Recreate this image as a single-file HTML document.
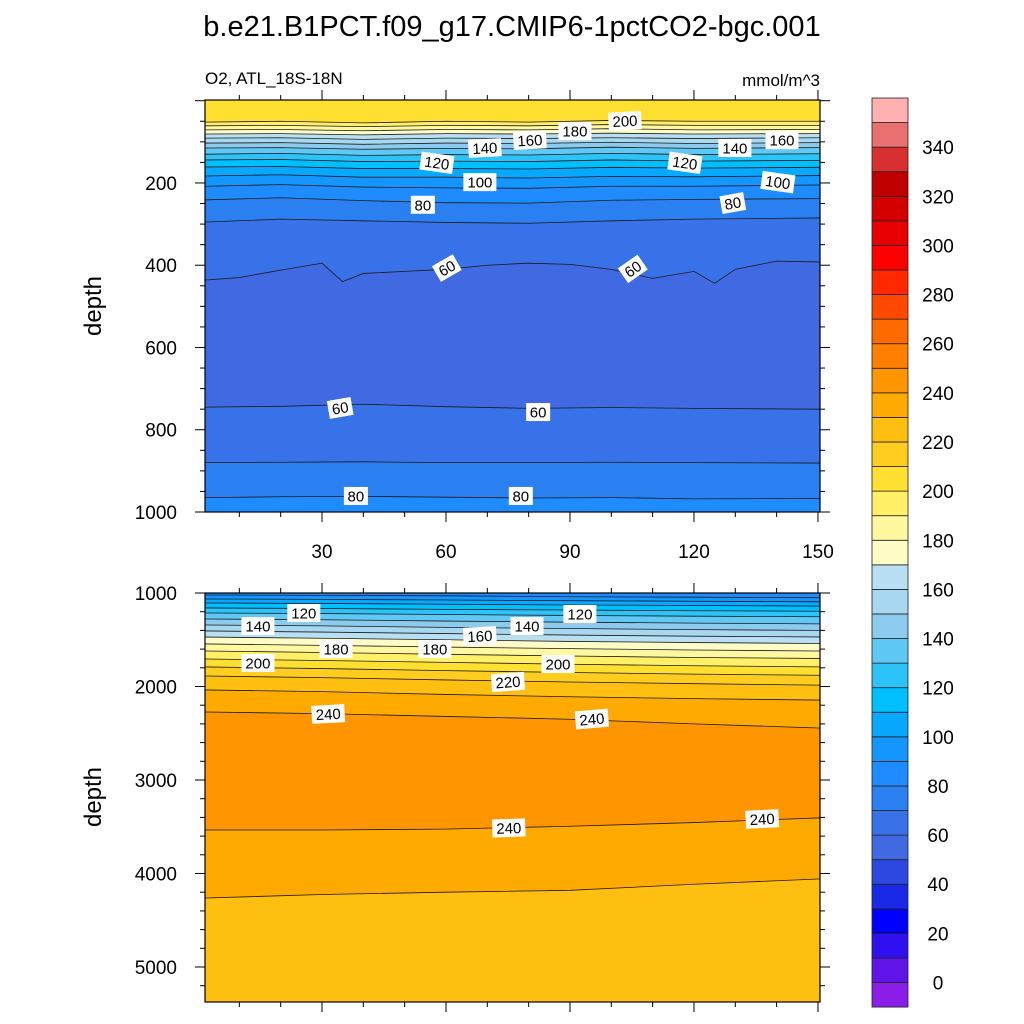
<!DOCTYPE html>
<html><head><meta charset="utf-8"><style>
body{margin:0;background:#fff}
svg{display:block;font-family:"Liberation Sans",sans-serif}
</style></head><body>
<svg id="chart" width="1024" height="1024" viewBox="0 0 1024 1024">
<text x="512" y="36" text-anchor="middle" font-size="29">b.e21.B1PCT.f09_g17.CMIP6-1pctCO2-bgc.001</text>
<text x="205" y="84" font-size="17">O2, ATL_18S-18N</text>
<text x="820" y="86" font-size="17" text-anchor="end">mmol/m^3</text>
<text transform="translate(101,306) rotate(-90)" text-anchor="middle" font-size="24">depth</text>
<text transform="translate(101,797) rotate(-90)" text-anchor="middle" font-size="24">depth</text>
<g id="layer"></g>
</svg>
<script>
// ---- data ----
const bandColors = ["#8a1ee8","#6014e8","#3010f0","#0000ff","#1a28e8","#2c48e0","#4169e1","#3872e8","#2a80f0","#1e8cff","#1496ff","#08a8ff","#00bfff","#2cc4f8","#60c8f5","#8ccbed","#a8d8f0","#b8e0f2","#fffcc8","#fff8a0","#fff068","#ffe030","#ffcc20","#ffbf10","#ffaa00","#ff9500","#ff8000","#ff6a00","#ff4800","#ff2800","#ff0000","#e80000","#d40000","#c00000","#d83030","#e87070","#ffb0b0"];
const cbLabels = [0,20,40,60,80,100,120,140,160,180,200,220,240,260,280,300,320,340];

const topYears = [2,20,40,60,80,100,120,150];
const topLevels = [200,190,180,170,160,150,140,130,120,110,100,90,80,70];
const topDepths = [
 [52,50,54,50,52,48,50,50],
 [61,60,63,60,61,58,60,60],
 [71,70,73,70,71,68,71,70],
 [81,80,83,80,81,79,81,80],
 [91,90,94,91,92,90,92,90],
 [103,102,106,103,104,101,104,102],
 [115,114,118,116,117,113,116,114],
 [130,128,133,131,132,128,131,129],
 [144,143,148,147,148,144,147,145],
 [161,160,165,165,166,162,164,162],
 [183,180,186,186,188,184,185,182],
 [208,204,210,212,213,208,208,205],
 [241,236,243,248,249,242,240,238],
 [295,288,292,296,298,292,288,285]
];
const wavyYears = [2,10,20,30,35,40,50,60,70,80,90,100,110,120,125,130,140,150];
const wavyLevel = 60;
const wavyDepths = [436,430,412,395,440,420,415,410,400,395,398,410,432,415,444,410,390,392];
const deepTopLevels = [60,70,80];
const deepTopDepths = [
 [745,743,738,744,748,746,748,750],
 [880,879,878,880,880,879,880,881],
 [965,963,962,964,966,965,968,967]
];
const botYears = [2,30,60,90,120,150];
const botLevels = [90,100,110,120,130,140,150,160,170,180,190,200,210,220,230,240];
const botDepths = [
 [1021,1025,1030,1040,1045,1050],
 [1064,1068,1075,1082,1088,1094],
 [1107,1112,1120,1128,1134,1140],
 [1160,1166,1175,1182,1190,1195],
 [1214,1220,1230,1240,1248,1254],
 [1278,1286,1300,1312,1322,1330],
 [1342,1352,1368,1380,1392,1400],
 [1406,1418,1434,1450,1462,1470],
 [1471,1484,1500,1518,1530,1540],
 [1545,1560,1578,1595,1610,1620],
 [1620,1636,1656,1674,1690,1700],
 [1706,1722,1742,1762,1778,1790],
 [1791,1808,1830,1850,1868,1880],
 [1888,1905,1930,1952,1970,1985],
 [2037,2055,2085,2110,2130,2145],
 [2273,2290,2320,2350,2400,2444]
];
const botDeepLevels = [240,230];
const botDeepDepths = [
 [3535,3535,3525,3495,3455,3406],
 [4262,4225,4200,4180,4115,4059]
];
const topLabelText = ["200","180","160","140","120","100","80","60","60","80","100","120","140","160","60","60","80","80"];
const topLabelYear = [103.3,91.2,80.3,69.4,57.8,68.2,54.4,60.2,105.2,129.4,140.3,117.8,129.9,141.3,34.4,82.3,38.2,78.1];
const topLabelDepth = [49,74,96,115,151,198,253,407,409,249,198,151,115,96,747,757,961,961];
const topLabelAngle = [-3,0,-3,-3,8,0,0,-30,-35,-10,8,8,0,0,-10,0,0,0];
const botLabelText = ["120","140","180","180","160","140","120","200","200","220","240","240","240","240"];
const botLabelYear = [25.6,14.5,33.4,57.3,68.2,79.6,92.4,14.5,87.1,75,31.5,95.3,75.2,136.5];
const botLabelDepth = [1214,1353,1599,1599,1460,1353,1225,1749,1759,1952,2294,2348,3513,3417];
const botLabelAngle = [0,0,0,0,-3,0,0,0,0,-4,-3,-5,-2,-3];

// ---- scales ----
const NS='http://www.w3.org/2000/svg';
const X0=205,X1=820;
const xS=yr=>322+(yr-30)*4.133;
const yTop=d=>100.7+d*0.4113;
const yBot=d=>593+(d-1000)*0.0935;
const layer=document.getElementById('layer');
function mk(tag,attrs,parent){const e=document.createElementNS(NS,tag);for(const k in attrs)e.setAttribute(k,attrs[k]);(parent||layer).appendChild(e);return e;}
const colorOf=low=>bandColors[Math.round((low+10)/10)];

function linePts(years,depths,yf){
  const p=[];
  p.push([X0,yf(depths[0])]);
  for(let i=0;i<years.length;i++)p.push([Math.min(X1,Math.max(X0,xS(years[i]))),yf(depths[i])]);
  p.push([X1,yf(depths[depths.length-1])]);
  return p;
}
function drawPanel(name,yTopPx,yBotPx,topBandLow,lines,yf,labels){
  const g=mk('g',{});
  
  
  const clip=mk('clipPath',{id:'clip-'+name},g);
  mk('rect',{x:X0,y:yTopPx,width:X1-X0,height:yBotPx-yTopPx},clip);
  const inner=mk('g',{'clip-path':'url(#clip-'+name+')'},g);
  const bg=mk('rect',{x:X0,y:yTopPx,width:X1-X0,height:yBotPx-yTopPx,fill:colorOf(topBandLow)},inner);
  
  
  lines.forEach(L=>{
    const pts=linePts(L.years,L.depths,yf);
    const low=L.dir>0?L.level:L.level-10;
    const poly=pts.map(p=>p.join(',')).join(' ')+' '+X1+','+(yBotPx+5)+' '+X0+','+(yBotPx+5);
    const b=mk('polygon',{points:poly,fill:colorOf(low)},inner);
    
    
  });
  lines.forEach(L=>{
    const pts=linePts(L.years,L.depths,yf);
    const c=mk('polyline',{points:pts.map(p=>p.join(',')).join(' '),fill:'none',stroke:'#1a1a1a','stroke-width':0.8},inner);
    
    
  });
  for(let i=0;i<labels.text.length;i++){
    const cx=xS(labels.year[i]),cy=yf(labels.depth[i]);
    const w=labels.text[i].length*9+6;
    const lg=mk('g',{transform:`translate(${cx},${cy}) rotate(${labels.angle[i]})`},inner);
    
    
    mk('rect',{x:-w/2,y:-9,width:w,height:18,fill:'#fff'},lg);
    const t=mk('text',{x:0,y:5.5,'text-anchor':'middle','font-size':15},lg);
    t.textContent=labels.text[i];
  }
  const fr=mk('rect',{x:X0,y:yTopPx,width:X1-X0,height:yBotPx-yTopPx,fill:'none',stroke:'#000','stroke-width':1.2},g);
  
  
  return g;
}
function tickY(yf,start,end,major,minor,yTopPx,yBotPx,labeled,skipFirst){
  for(let d=start;d<=end;d+=minor){
    const y=yf(d); if(y<yTopPx-0.5||y>yBotPx+0.5)continue;
    const isM=d%major===0; const len=isM?10:5;
    mk('line',{x1:X0-len,y1:y,x2:X0,y2:y,stroke:'#000','stroke-width':1});
    mk('line',{x1:X1,y1:y,x2:X1+len,y2:y,stroke:'#000','stroke-width':1});
    if(isM&&labeled&&!(skipFirst&&d===start)){const t=mk('text',{x:X0-28,y:y+7,'text-anchor':'end','font-size':19});t.textContent=d;
      }
  }
}
function tickX(yTopPx,yBotPx,labeled){
  for(let yr=10;yr<=150;yr+=10){
    const x=xS(yr);const isM=yr%30===0;const len=isM?10:5;
    mk('line',{x1:x,y1:yTopPx-len,x2:x,y2:yTopPx,stroke:'#000','stroke-width':1});
    mk('line',{x1:x,y1:yBotPx,x2:x,y2:yBotPx+len,stroke:'#000','stroke-width':1});
    if(isM&&labeled){const t=mk('text',{x:x,y:yBotPx+46,'text-anchor':'middle','font-size':19});t.textContent=yr;
      }
  }
}
const topLines=[];
topLevels.forEach((lv,i)=>topLines.push({level:lv,dir:-1,years:topYears,depths:topDepths[i]}));
topLines.push({level:wavyLevel,dir:-1,years:wavyYears,depths:wavyDepths});
deepTopLevels.forEach((lv,i)=>topLines.push({level:lv,dir:1,years:topYears,depths:deepTopDepths[i]}));
drawPanel('top-panel',100,512,200,topLines,yTop,{text:topLabelText,year:topLabelYear,depth:topLabelDepth,angle:topLabelAngle});
const botLines=[];
botLevels.forEach((lv,i)=>botLines.push({level:lv,dir:1,years:botYears,depths:botDepths[i]}));
botDeepLevels.forEach((lv,i)=>botLines.push({level:lv,dir:-1,years:botYears,depths:botDeepDepths[i]}));
drawPanel('bottom-panel',593,1002,80,botLines,yBot,{text:botLabelText,year:botLabelYear,depth:botLabelDepth,angle:botLabelAngle});
tickY(yTop,0,1000,200,50,100,512,true,true);
tickY(yBot,1000,5400,1000,200,593,1002,true,false);
tickX(100,512,true);
tickX(593,1002,false);
// colorbar
const cbX=872,cbW=36,cbTop=98,cbStep=24.57;
const nB=bandColors.length;
for(let i=0;i<nB;i++){
  const y=cbTop+(nB-1-i)*cbStep;
  const r=mk('rect',{x:cbX,y:y,width:cbW,height:cbStep,fill:bandColors[i],stroke:'#222','stroke-width':0.8});
  
  
}
cbLabels.forEach(v=>{
  const y=cbTop+(nB-1-(v+10)/10)*cbStep+cbStep;
  const t=mk('text',{x:938,y:y+7,'text-anchor':'middle','font-size':19});
  t.textContent=v;
  
  
});
</script>
</body></html>
